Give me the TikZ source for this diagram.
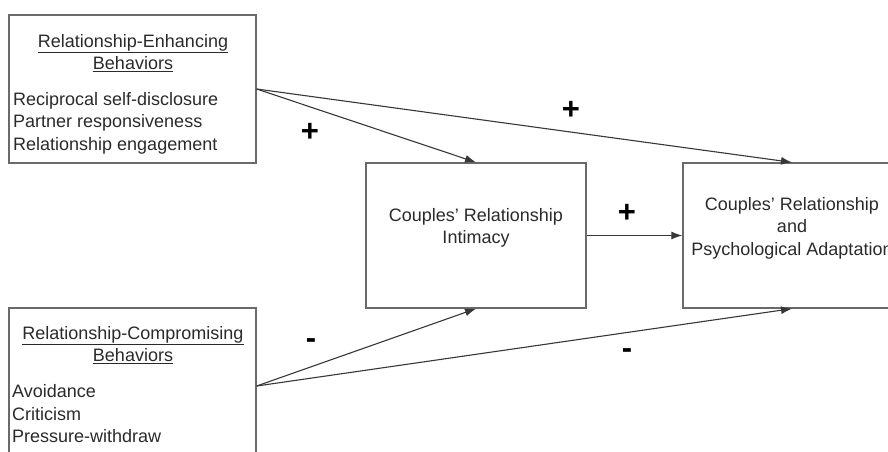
\documentclass[tikz,border=0pt]{standalone}
\usepackage{fontspec}
\setmainfont{Liberation Sans}
\usepackage{tikz}
\usetikzlibrary{arrows.meta,positioning}
\definecolor{boxline}{HTML}{6A6A6A}
\definecolor{inktext}{HTML}{2A2A2A}
\tikzset{
  box/.style={draw=boxline,line width=1.3pt,rectangle,inner sep=0pt},
  txt/.style={text=inktext,inner sep=0pt,font=\fontsize{18}{22.5}\selectfont},
  sign/.style={text=black,inner sep=0pt,font=\fontsize{31}{31}\selectfont\bfseries},
  arr/.style={draw=inktext!85!gray,line width=1.1pt,-{Latex[length=11pt,width=8pt]}}
}
\begin{document}
\begin{tikzpicture}[x=1pt,y=-1pt]
\useasboundingbox (0,0) rectangle (888,451);
\clip (0,0) rectangle (888,451);
% boxes
\node[box,minimum width=247,minimum height=148] (enh) at (132.5,89) {};
\node[box,minimum width=247,minimum height=156] (comp) at (132.5,386) {};
\node[box,minimum width=220,minimum height=145] (mid) at (476,235.5) {};
\node[box,minimum width=218,minimum height=145] (adapt) at (792,235.5) {};
% texts
\node[txt,align=center] (enhhead) at (133,53) {\underline{Relationship-Enhancing}\\\underline{Behaviors}};
\node[txt,align=left,anchor=west] (enhlist) at (13,123) {Reciprocal self-disclosure\\Partner responsiveness\\Relationship engagement};
\node[txt,align=center] (comphead) at (133,345) {\underline{Relationship-Compromising}\\\underline{Behaviors}};
\node[txt,align=left,anchor=west] (complist) at (12,414) {Avoidance\\Criticism\\Pressure-withdraw};
\node[txt,align=center] (midtext) at (476,228) {Couples’ Relationship\\Intimacy};
\node[txt,align=center] (adapttext) at (792,228) {Couples’ Relationship\\and\\Psychological Adaptation};
% paths
\draw[arr] (enh.east) -- (mid.north);
\draw[arr] (enh.east) -- (adapt.north);
\draw[arr] (comp.east) -- (mid.south);
\draw[arr] (comp.east) -- (adapt.south);
\draw[arr] (mid.east) -- (adapt.west);
% signs
\node[sign] (s1) at (310,132) {+};
\node[sign] (s2) at (571,110) {+};
\node[sign] (s3) at (627,213) {+};
\node[sign] (s4) at (311,344) {-};
\node[sign] (s5) at (627,354) {-};
\end{tikzpicture}
\end{document}
